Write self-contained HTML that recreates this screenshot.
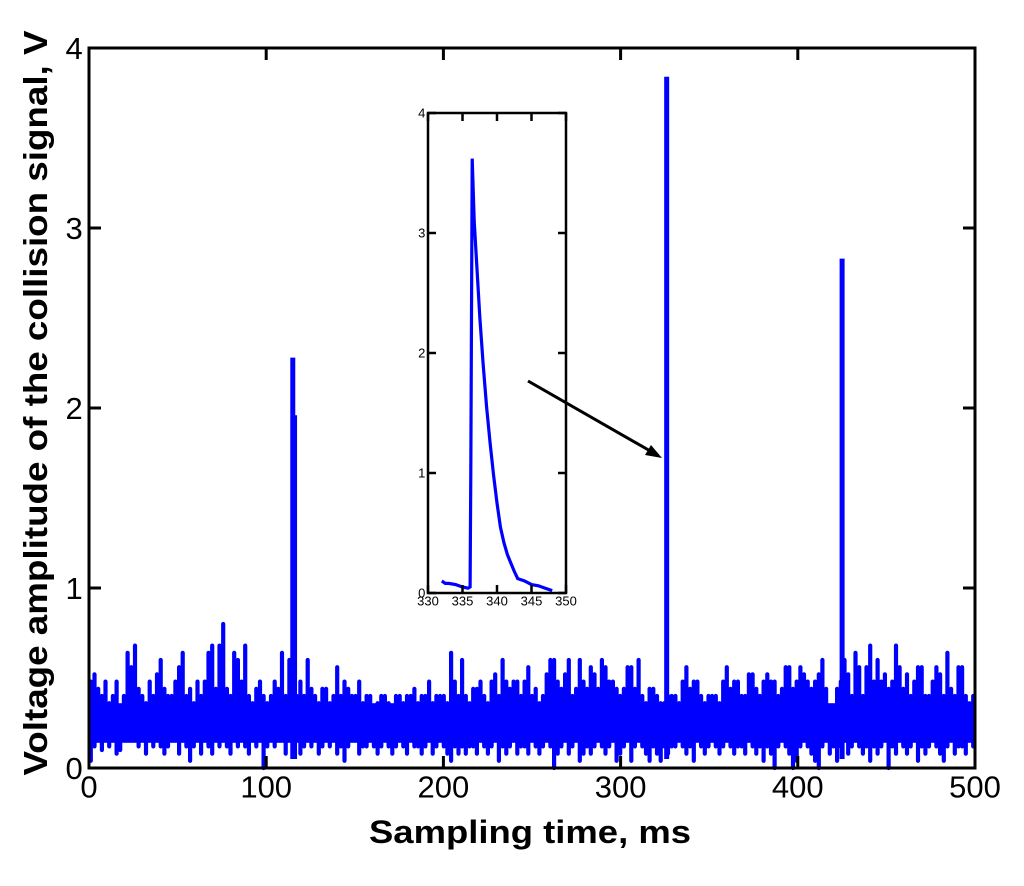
<!DOCTYPE html>
<html><head><meta charset="utf-8"><style>
body{margin:0;background:#fff}
svg{display:block;font-family:"Liberation Sans",sans-serif}
</style></head><body>
<svg id="c" width="1024" height="886" viewBox="0 0 1024 886">
<g id="main"></g>
<g id="inset"></g>
<text x="530" y="843" font-size="32" font-weight="bold" text-anchor="middle" textLength="322" lengthAdjust="spacingAndGlyphs">Sampling time, ms</text>
<text transform="translate(47,403) rotate(-90)" font-size="33" font-weight="bold" text-anchor="middle" textLength="745" lengthAdjust="spacingAndGlyphs">Voltage amplitude of the collision signal, V</text>
<g>
<line x1="528" y1="381" x2="652" y2="452" stroke="#000" stroke-width="3"/>
<polygon points="662,458 645,455 651,445" fill="#000"/>
</g>
</svg>
<script>
const xTicks=[0,100,200,300,400,500];
const yTicks=[0,1,2,3,4];
// noise envelope per 2 ms sample
const highs=[0.48,0.52,0.44,0.4,0.48,0.36,0.4,0.48,0.32,0.4,0.64,0.56,0.68,0.44,0.4,0.36,0.48,0.4,0.52,0.6,0.44,0.4,0.4,0.48,0.56,0.64,0.4,0.44,0.36,0.48,0.4,0.48,0.64,0.68,0.44,0.68,0.8,0.44,0.4,0.64,0.6,0.48,0.68,0.4,0.36,0.44,0.48,0.4,0.36,0.4,0.48,0.44,0.64,0.4,0.6,0.36,0.4,0.48,0.4,0.6,0.44,0.4,0.36,0.44,0.44,0.36,0.4,0.56,0.4,0.48,0.44,0.4,0.4,0.48,0.36,0.4,0.4,0.32,0.36,0.4,0.4,0.36,0.32,0.4,0.4,0.36,0.4,0.4,0.44,0.36,0.4,0.4,0.48,0.36,0.4,0.4,0.4,0.36,0.64,0.48,0.4,0.6,0.4,0.36,0.44,0.44,0.48,0.4,0.36,0.48,0.52,0.4,0.6,0.48,0.44,0.48,0.48,0.4,0.48,0.56,0.4,0.44,0.36,0.4,0.52,0.6,0.6,0.48,0.44,0.52,0.6,0.4,0.44,0.6,0.48,0.44,0.56,0.52,0.44,0.6,0.56,0.48,0.48,0.44,0.4,0.44,0.56,0.56,0.44,0.6,0.4,0.36,0.44,0.44,0.4,0.36,0.36,0.4,0.4,0.4,0.36,0.48,0.56,0.44,0.48,0.48,0.4,0.36,0.4,0.4,0.4,0.36,0.48,0.56,0.44,0.48,0.48,0.4,0.4,0.52,0.52,0.44,0.4,0.48,0.52,0.48,0.48,0.4,0.44,0.56,0.56,0.44,0.48,0.56,0.52,0.48,0.44,0.48,0.52,0.6,0.44,0.32,0.32,0.44,0.48,0.6,0.52,0.4,0.64,0.56,0.4,0.56,0.68,0.48,0.6,0.48,0.52,0.44,0.48,0.68,0.56,0.44,0.52,0.4,0.48,0.56,0.56,0.4,0.4,0.48,0.56,0.52,0.4,0.64,0.44,0.4,0.56,0.56,0.4,0.36,0.4];
const lows=[0.04,0.12,0.2,0.1,0.16,0.12,0.2,0.08,0.1,0.16,0.2,0.2,0.16,0.12,0.16,0.08,0.2,0.12,0.16,0.12,0.08,0.12,0.16,0.2,0.08,0.16,0.12,0.04,0.12,0.16,0.08,0.16,0.12,0.08,0.2,0.12,0.16,0.12,0.08,0.16,0.12,0.16,0.12,0.08,0.16,0.12,0.2,0.0,0.12,0.16,0.12,0.2,0.16,0.08,0.16,0.12,0.16,0.08,0.12,0.16,0.12,0.2,0.08,0.12,0.16,0.12,0.16,0.08,0.12,0.04,0.12,0.16,0.16,0.08,0.12,0.12,0.16,0.12,0.08,0.12,0.16,0.12,0.08,0.12,0.16,0.12,0.08,0.16,0.12,0.12,0.08,0.12,0.16,0.08,0.12,0.16,0.12,0.08,0.04,0.12,0.08,0.12,0.08,0.12,0.12,0.08,0.16,0.12,0.08,0.12,0.16,0.04,0.12,0.08,0.12,0.16,0.08,0.12,0.12,0.08,0.16,0.12,0.08,0.12,0.16,0.12,0.0,0.08,0.12,0.16,0.08,0.12,0.16,0.04,0.08,0.12,0.08,0.12,0.16,0.12,0.08,0.12,0.16,0.04,0.08,0.12,0.16,0.04,0.12,0.16,0.12,0.08,0.04,0.12,0.08,0.04,0.12,0.08,0.12,0.12,0.16,0.12,0.08,0.12,0.04,0.16,0.12,0.08,0.12,0.16,0.12,0.08,0.12,0.16,0.12,0.08,0.12,0.12,0.08,0.16,0.12,0.08,0.12,0.04,0.12,0.08,0.0,0.12,0.16,0.12,0.08,0.0,0.04,0.12,0.16,0.12,0.08,0.04,0.0,0.12,0.16,0.08,0.12,0.04,0.12,0.16,0.08,0.12,0.16,0.12,0.08,0.12,0.04,0.12,0.08,0.12,0.16,0.0,0.12,0.08,0.16,0.12,0.08,0.12,0.16,0.04,0.12,0.08,0.12,0.16,0.12,0.08,0.04,0.12,0.16,0.08,0.12,0.12,0.08,0.16,0.12,0.08,0.04,0.12,0.16,0.12,0.16,0.12];
const midHi=0.36, midLo=0.14;
const spikeT=[115,116,326,425];
const spikeV=[2.28,1.96,3.84,2.83];
const insetT=[332,332.5,333,334,335,335.8,336.1,336.2,336.4,336.7,337,337.5,338,338.5,339,339.5,340,340.5,341,341.5,342,342.5,343,344,345,346,347,348];
const insetV=[0.1,0.08,0.08,0.07,0.05,0.04,0.05,1.0,3.62,3.1,2.8,2.3,1.9,1.55,1.25,0.98,0.75,0.55,0.42,0.32,0.25,0.18,0.12,0.1,0.07,0.06,0.04,0.02];
const insetXTicks=[330,335,340,345,350];
const insetYTicks=[0,1,2,3,4];
const NS="http://www.w3.org/2000/svg";
function mk(p,tag,a){const e=document.createElementNS(NS,tag);for(const k in a)e.setAttribute(k,a[k]);p.appendChild(e);return e;}
function axes(g,L,R,T,B,x0,x1,y0,y1,xt,yt,fs,sw,tl,name){
  const X=v=>L+(v-x0)/(x1-x0)*(R-L), Y=v=>B-(v-y0)/(y1-y0)*(B-T);
  return {X,Y,draw(){
    const r=mk(g,'rect',{x:L,y:T,width:R-L,height:B-T,fill:'none',stroke:'#000','stroke-width':sw});
    
    
    xt.forEach(v=>{const x=X(v);
      mk(g,'line',{x1:x,x2:x,y1:B,y2:B-tl,stroke:'#000','stroke-width':sw});
      mk(g,'line',{x1:x,x2:x,y1:T,y2:T+tl,stroke:'#000','stroke-width':sw});
      const t=mk(g,'text',{x:x,y:B+fs*0.95,'font-size':fs,'text-anchor':'middle'});t.textContent=v;
      
      });
    yt.forEach(v=>{const y=Y(v);
      mk(g,'line',{x1:L,x2:L+tl,y1:y,y2:y,stroke:'#000','stroke-width':sw});
      mk(g,'line',{x1:R,x2:R-tl,y1:y,y2:y,stroke:'#000','stroke-width':sw});
      const t=mk(g,'text',{x:L-fs*0.2,y:y+fs*0.36,'font-size':fs,'text-anchor':'end'});t.textContent=v;
      
      });
  }};
}
const gm=document.getElementById('main');
const A=axes(gm,89,975,48,768,0,500,0,4,xTicks,yTicks,31,3,12,'main');
const dt=500/highs.length;
const band=mk(gm,'rect',{x:A.X(0),y:A.Y(midHi),width:A.X(500)-A.X(0),height:A.Y(midLo)-A.Y(midHi),fill:'#0000ff'});


let d='';
highs.forEach((h,i)=>{const x=A.X((i+0.5)*dt).toFixed(1);d+='M'+x+' '+A.Y(lows[i]).toFixed(1)+'V'+A.Y(h).toFixed(1)+' ';});
const p=mk(gm,'path',{d:d,fill:'none',stroke:'#0000ff','stroke-width':4.2,'stroke-linecap':'round'});


spikeT.forEach((t,i)=>{const x=A.X(t);
  const s=mk(gm,'line',{x1:x,x2:x,y1:A.Y(0.05),y2:A.Y(spikeV[i]),stroke:'#0000ff','stroke-width':5});
  
  });
A.draw();
const gi=document.getElementById('inset');
mk(gi,'rect',{x:428,y:113,width:138,height:480,fill:'#fff'});
const B=axes(gi,428,566,113,593,330,350,0,4,insetXTicks,insetYTicks,13,2.5,8,'inset');
let d2='';insetT.forEach((t,i)=>{d2+=(i?'L':'M')+B.X(t).toFixed(1)+' '+B.Y(insetV[i]).toFixed(1)+' ';});
const p2=mk(gi,'path',{d:d2,fill:'none',stroke:'#0000ff','stroke-width':3.2});


B.draw();
</script>
</body></html>
